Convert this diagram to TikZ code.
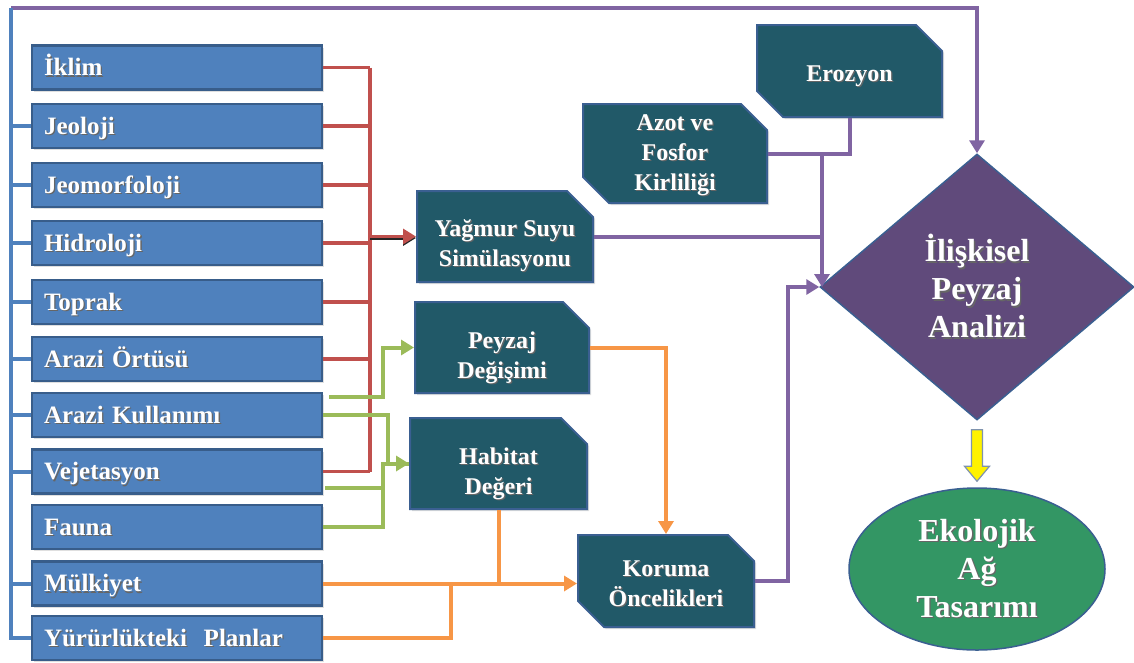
\documentclass[tikz,border=0pt]{standalone}
\usepackage{fontspec}
\setmainfont{Liberation Serif}
\usetikzlibrary{arrows.meta,shapes.geometric,shapes.misc,shadows,calc}

\definecolor{lfill}{HTML}{4F81BD}
\definecolor{lborder}{HTML}{385D8A}
\definecolor{tfill}{HTML}{215968}
\definecolor{tborder}{HTML}{3A5F91}
\definecolor{dfill}{HTML}{604A7B}
\definecolor{efill}{RGB}{51,150,100}
\definecolor{cred}{HTML}{C0504D}
\definecolor{cgreen}{HTML}{9BBB59}
\definecolor{corange}{HTML}{F79646}
\definecolor{cpurple}{HTML}{8064A2}
\definecolor{cblue}{HTML}{4F81BD}
\definecolor{yborder}{HTML}{7F93AE}

% white label with a soft dark shadow behind it
\newcommand\shadowtxt[1]{\leavevmode\rlap{\hspace{1.3pt}\raisebox{-1.3pt}{\color{black!60}#1}}#1}

\begin{document}
\begin{tikzpicture}[x=1pt,y=-1pt,
  boxshadow/.style={drop shadow={opacity=0.25,shadow xshift=2pt,shadow yshift=-2pt}},
  leftbox/.style={rectangle, fill=lfill, draw=lborder, line width=2.5pt,
    minimum width=290pt, minimum height=44pt, text width=266pt, inner xsep=12pt,
    text height=20pt, text depth=3.5pt,
    align=left, text=white, font=\bfseries\fontsize{25}{28}\selectfont, boxshadow},
  tealbox/.style={chamfered rectangle, chamfered rectangle sep=13pt,
    fill=tfill, draw=tborder, line width=2pt, inner sep=0pt,
    align=center, text=white, font=\bfseries\fontsize{24}{30}\selectfont, boxshadow},
  onecut/.style={chamfered rectangle corners={north east}},
  twocut/.style={chamfered rectangle corners={north east,south west}},
  link/.style={line width=4pt},
  rline/.style={line width=3.3pt, draw=cred},
  gline/.style={link, draw=cgreen},
  oline/.style={link, draw=corange},
  pline/.style={link, draw=cpurple},
  bline/.style={line width=4pt, draw=cblue},
  arr/.style={-{Triangle[length=13pt,width=15pt]}},
]
\useasboundingbox (0,0) rectangle (1134,662);

% input layers
\node[leftbox] (ikl) at (177,67.5)  {\shadowtxt{İklim}};
\node[leftbox] (jeo) at (177,126)   {\shadowtxt{Jeoloji}};
\node[leftbox] (jmf) at (177,185)   {\shadowtxt{Jeomorfoloji}};
\node[leftbox] (hid) at (177,243)   {\shadowtxt{Hidroloji}};
\node[leftbox] (top) at (177,302)   {\shadowtxt{Toprak}};
\node[leftbox] (aro) at (177,359)   {\shadowtxt{Arazi Örtüsü}};
\node[leftbox] (aku) at (177,415)   {\shadowtxt{Arazi Kullanımı}};
\node[leftbox] (vej) at (177,471.5) {\shadowtxt{Vejetasyon}};
\node[leftbox] (fau) at (177,527)   {\shadowtxt{Fauna}};
\node[leftbox] (mul) at (177,583.5) {\shadowtxt{Mülkiyet}};
\node[leftbox] (yur) at (177,638)   {\shadowtxt{Yürürlükteki\ \ Planlar}};

% intermediate analyses (text height/depth place the lines inside each box)
\node[tealbox, twocut, minimum width=185pt, minimum height=92pt,
  text height=25pt, text depth=5pt] (ero) at (849.5,71) {\shadowtxt{Erozyon}};
\node[tealbox, twocut, minimum width=184pt, minimum height=93pt,
  text height=73pt, text depth=-6pt] (azo) at (675,153.5)
  {\shadowtxt{Azot ve}\\\shadowtxt{Fosfor}\\\shadowtxt{Kirliliği}};
\node[tealbox, onecut, minimum width=176pt, minimum height=91pt,
  text height=62pt, text depth=3pt] (yag) at (505,236.5)
  {\shadowtxt{Yağmur Suyu}\\\shadowtxt{Simülasyonu}};
\node[tealbox, onecut, minimum width=174pt, minimum height=91pt,
  text height=63pt, text depth=2pt] (pey) at (502,347.5)
  {\shadowtxt{Peyzaj}\\\shadowtxt{Değişimi}};
\node[tealbox, onecut, minimum width=177pt, minimum height=91pt,
  text height=63pt, text depth=2pt] (hab) at (498.5,463.5)
  {\shadowtxt{Habitat}\\\shadowtxt{Değeri}};
\node[tealbox, twocut, minimum width=176pt, minimum height=92pt,
  text height=55pt, text depth=5pt] (kor) at (666,581)
  {\shadowtxt{Koruma}\\\shadowtxt{Öncelikleri}};

% synthesis and result
\node[diamond, minimum width=314pt, minimum height=266pt, inner sep=0pt,
  fill=dfill, draw=tborder, line width=1.5pt, align=center, text=white,
  font=\bfseries\fontsize{32}{38}\selectfont] (rpa) at (977,287)
  {\shadowtxt{İlişkisel}\\\shadowtxt{Peyzaj}\\\shadowtxt{Analizi}};
\node[ellipse, minimum width=256pt, minimum height=162pt, inner sep=0pt,
  fill=efill, draw=tborder, line width=1.5pt, align=center, text=white,
  font=\bfseries\fontsize{32}{38}\selectfont] (eag) at (977,569)
  {\shadowtxt{Ekolojik}\\\shadowtxt{Ağ}\\\shadowtxt{Tasarımı}};

% blue collector on the left and the purple line over the top
\coordinate (bt) at (11,8);
\draw[pline, arr] (bt) -| (rpa.north);
\draw[bline] (bt) -- (bt |- yur.west) -- (yur.west);
\foreach \n in {jeo,jmf,hid,top,aro,aku,vej,mul}
  \draw[bline] (bt |- \n.west) -- (\n.west);

% red group into the rainwater simulation
\coordinate (rb) at (370,0);
\foreach \n in {ikl,jeo,jmf,hid,top,aro,vej}
  \draw[rline] (\n.east) -- (\n.east -| rb);
\draw[rline] (ikl.east -| rb) -- (vej.east -| rb);
\draw[rline, black!85, arr, transform canvas={yshift=-1.5pt}] (yag.west -| rb) -- (yag.west);
\draw[rline, arr] (yag.west -| rb) -- (yag.west);

% green group into landscape change and habitat value
\coordinate (g1) at (329,397);
\coordinate (g3) at (325,488);
\draw[gline, arr] (g1) -- (383,397) |- (pey.west);
\draw[gline, arr] (aku.east) -- ++(65,0) |- (hab.west);
\draw[gline] (fau.east) -- ++(60,0) |- (hab.west);
\draw[gline] (g3) -- (382,488);

% orange group into conservation priorities
\draw[oline] (hab.south) -- (hab.south |- mul.east);
\draw[oline] (yur.east) -- ++(128,0) coordinate (oy) -- (oy |- mul.east);
\draw[oline, arr] (mul.east) -- (kor.west |- mul.east);
\draw[oline, arr] (pey.east) -| (kor.north);

% purple group into the relational analysis
\coordinate (pv) at (822,0);
\draw[pline] (ero.south) |- (azo.east);
\draw[pline] (yag.east) -- (yag.east -| pv);
\draw[pline, arr] (azo.east -| pv) -- (pv |- rpa.west);
\draw[pline, arr] (kor.east) -- ++(33,0) |- (rpa.west);

% block arrow down to the network design
\coordinate (ya) at ($(rpa.south)+(0,9)$);
\coordinate (yb) at ($(eag.north)+(0,-6)$);
\draw[fill=yellow, draw=yborder, line width=1.2pt, line join=miter]
  ($(ya)+(-5.5,0)$) -- ($(ya)+(5.5,0)$) -- ($(yb)+(5.5,-15)$) -- ($(yb)+(12.5,-15)$)
  -- (yb) -- ($(yb)+(-12.5,-15)$) -- ($(yb)+(-5.5,-15)$) -- cycle;
\end{tikzpicture}
\end{document}
